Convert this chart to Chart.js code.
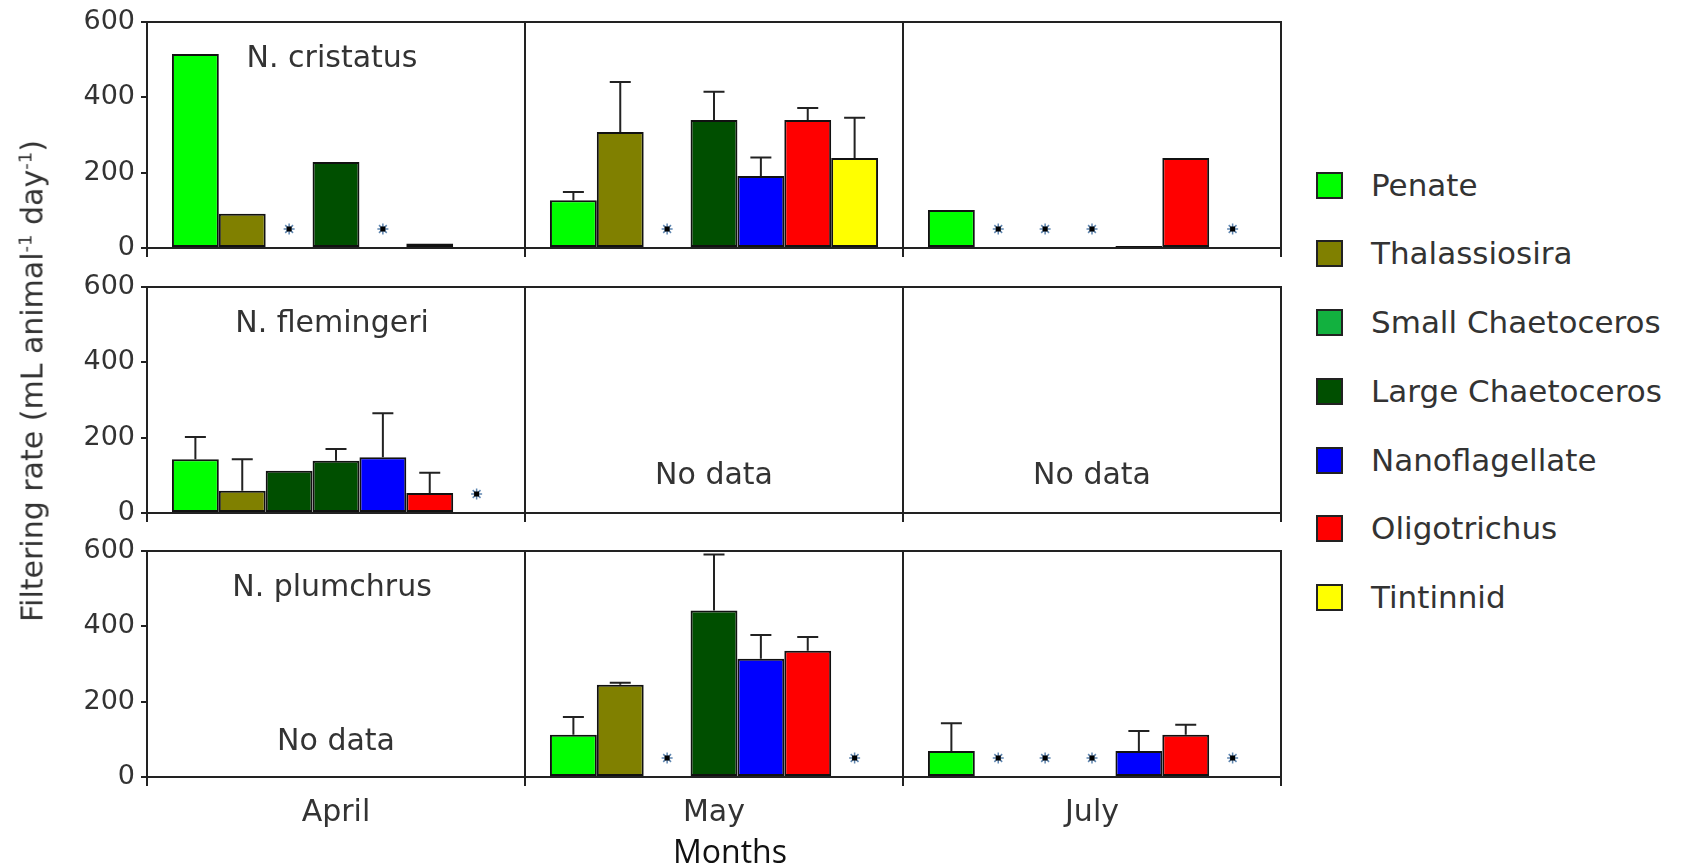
<!DOCTYPE html>
<html>
<head>
<meta charset="utf-8">
<script src="https://cdn.jsdelivr.net/npm/chart.js@4.4.1/dist/chart.umd.min.js"></script>
<style>
    body { margin: 0; width: 1684px; height: 863px; overflow: hidden; background: #fff; position: relative; font-family: 'DejaVu Sans', sans-serif; }
    canvas.panel { position: absolute; left: 0; }
    #yTitle { position: absolute; left: 32px; top: 381px; transform: translate(-50%, -50%) rotate(-90deg); white-space: nowrap; font-size: 30px; color: #333; }
    #yTitle sup { font-size: 0.6em; }
    #xTitle { position: absolute; left: 730px; top: 850px; transform: translate(-50%, -50%); font-family: 'Open Sans', sans-serif; font-size: 32px; color: #111; }
    .legRow { position: absolute; left: 1316px; height: 34px; display: flex; align-items: center; transform: translateY(-50%); }
    .legBox { width: 27px; height: 27px; box-sizing: border-box; border: 2px solid #222; }
    .legText { margin-left: 28px; font-size: 31px; color: #333; white-space: nowrap; }
</style>
</head>
<body>
<canvas id="panel0" class="panel"></canvas>
<canvas id="panel1" class="panel"></canvas>
<canvas id="panel2" class="panel"></canvas>
<div id="yTitle">Filtering rate (mL animal<sup>-1</sup> day<sup>-1</sup>)</div>
<div id="xTitle">Months</div>
<div id="legend"></div>
<script>
// categories
const months = ['April', 'May', 'July'];
const prey = ['Penate', 'Thalassiosira', 'Small Chaetoceros', 'Large Chaetoceros', 'Nanoflagellate', 'Oligotrichus', 'Tintinnid'];
const species = ['N. cristatus', 'N. flemingeri', 'N. plumchrus'];
const yTicks = [0, 200, 400, 600];

// filtering rate per prey, [April, May, July]; null = no bar
const cristatusRate = [
    [515, 127, 101],
    [91, 308, null],
    [null, null, null],
    [228, 340, null],
    [null, 191, 5],
    [12, 340, 239],
    [null, 239, null]
];
const cristatusErr = [
    [null, 22, null],
    [null, 133, null],
    [null, null, null],
    [null, 75, null],
    [null, 49, null],
    [null, 32, null],
    [null, 107, null]
];
// 1 = "*" marker (not detected)
const cristatusStar = [
    [0, 0, 0],
    [0, 0, 1],
    [1, 1, 1],
    [0, 0, 1],
    [1, 0, 0],
    [0, 0, 0],
    [0, 0, 1]
];

const flemingeriRate = [
    [143, null, null],
    [59, null, null],
    [112, null, null],
    [139, null, null],
    [148, null, null],
    [53, null, null],
    [null, null, null]
];
const flemingeriErr = [
    [59, null, null],
    [84, null, null],
    [null, null, null],
    [31, null, null],
    [117, null, null],
    [54, null, null],
    [null, null, null]
];
const flemingeriStar = [
    [0, 0, 0],
    [0, 0, 0],
    [0, 0, 0],
    [0, 0, 0],
    [0, 0, 0],
    [0, 0, 0],
    [1, 0, 0]
];

const plumchrusRate = [
    [null, 112, 69],
    [null, 245, null],
    [null, null, null],
    [null, 442, null],
    [null, 314, 69],
    [null, 335, 112],
    [null, null, null]
];
const plumchrusErr = [
    [null, 47, 74],
    [null, 5, null],
    [null, null, null],
    [null, 149, null],
    [null, 63, 53],
    [null, 37, 27],
    [null, null, null]
];
const plumchrusStar = [
    [0, 0, 0],
    [0, 0, 1],
    [0, 1, 1],
    [0, 0, 1],
    [0, 0, 0],
    [0, 0, 0],
    [0, 1, 1]
];

// months without data, per species
const noDataMonths = [[], [1, 2], [0]];

const rates = [cristatusRate, flemingeriRate, plumchrusRate];
const errs = [cristatusErr, flemingeriErr, plumchrusErr];
const stars = [cristatusStar, flemingeriStar, plumchrusStar];

// styles
const preyColors = ['#00ff00', '#808000', '#12b13f', '#004f00', '#0000ff', '#ff0000', '#ffff00'];
const panelTops = [22, 287, 551];
const panelH = 226;
const topPad = 30;
const noDataLift = [0, 37, 35];
const axisColor = '#222';
const textColor = '#333';
const font30 = '30px "DejaVu Sans"';

function barColor(p, k) {
    // small Chaetoceros of N. flemingeri is drawn dark green in the source figure
    if (p === 1 && k === 2) return preyColors[3];
    return preyColors[k];
}

function drawStar(ctx, cx, cy) {
    ctx.save();
    ctx.strokeStyle = '#5f86b0';
    ctx.lineWidth = 1.5;
    for (let a = 0; a < 4; a++) {
        const t = a * Math.PI / 4;
        ctx.beginPath();
        ctx.moveTo(cx - 5.5 * Math.cos(t), cy - 5.5 * Math.sin(t));
        ctx.lineTo(cx + 5.5 * Math.cos(t), cy + 5.5 * Math.sin(t));
        ctx.stroke();
    }
    ctx.fillStyle = '#000';
    ctx.fillRect(cx - 2.5, cy - 2.5, 5, 5);
    ctx.restore();
}

const panelExtras = {
    id: 'panelExtras',
    afterDatasetsDraw(chart, args, opts) {
        const p = opts.panel;
        const { ctx, chartArea, scales: { x, y } } = chart;
        const base = y.getPixelForValue(0);
        ctx.save();

        // error bars (upper half only)
        ctx.strokeStyle = axisColor;
        ctx.lineWidth = 2;
        errs[p].forEach((row, k) => {
            const meta = chart.getDatasetMeta(k);
            row.forEach((e, m) => {
                if (e == null) return;
                const bar = meta.data[m];
                const yTop = y.getPixelForValue(rates[p][k][m] + e);
                ctx.beginPath();
                ctx.moveTo(bar.x, bar.y);
                ctx.lineTo(bar.x, yTop);
                ctx.moveTo(bar.x - 10.5, yTop);
                ctx.lineTo(bar.x + 10.5, yTop);
                ctx.stroke();
            });
        });

        // not-detected markers
        stars[p].forEach((row, k) => {
            const meta = chart.getDatasetMeta(k);
            row.forEach((s, m) => {
                if (s) drawStar(ctx, meta.data[m].x, base - 19);
            });
        });

        // labels
        ctx.fillStyle = textColor;
        ctx.font = font30;
        ctx.textAlign = 'center';
        ctx.textBaseline = 'middle';
        ctx.fillText(species[p], x.getPixelForValue(0) - 4, chartArea.top + 37);
        noDataMonths[p].forEach(m => {
            ctx.fillText('No data', x.getPixelForValue(m), base - noDataLift[p]);
        });

        // frame
        ctx.strokeStyle = axisColor;
        ctx.lineWidth = 2;
        ctx.strokeRect(chartArea.left, chartArea.top, chartArea.right - chartArea.left, chartArea.bottom - chartArea.top);
        ctx.restore();
    }
};

function createPanel(p) {
    const showMonths = p === 2;
    const xH = showMonths ? 70 : 32;
    const canvas = document.getElementById('panel' + p);
    canvas.width = 1300;
    canvas.height = topPad + panelH + xH;
    canvas.style.top = (panelTops[p] - topPad) + 'px';

    const datasets = prey.map((name, k) => ({
        label: name,
        data: rates[p][k],
        backgroundColor: barColor(p, k),
        borderColor: '#111',
        borderWidth: 2,
        borderSkipped: false
    }));

    return new Chart(canvas.getContext('2d'), {
        type: 'bar',
        data: { labels: months, datasets: datasets },
        options: {
            responsive: false,
            animation: false,
            devicePixelRatio: 1,
            layout: { padding: { top: topPad, right: 19, left: 0, bottom: 0 } },
            datasets: { bar: { categoryPercentage: 0.868, barPercentage: 1 } },
            plugins: {
                legend: { display: false },
                tooltip: { enabled: false },
                panelExtras: { panel: p }
            },
            scales: {
                x: {
                    offset: true,
                    grid: { offset: true, drawOnChartArea: true, color: axisColor, lineWidth: 2, tickLength: 9 },
                    border: { display: true, color: axisColor, width: 2 },
                    ticks: { display: showMonths, color: textColor, font: { family: 'DejaVu Sans', size: 30 }, padding: 9 },
                    afterFit: (s) => { s.height = xH; }
                },
                y: {
                    min: 0,
                    max: 600,
                    afterBuildTicks: (s) => { s.ticks = yTicks.map(v => ({ value: v })); },
                    grid: { drawOnChartArea: false, color: axisColor, lineWidth: 2, tickLength: 6 },
                    border: { display: true, color: axisColor, width: 2 },
                    ticks: { color: textColor, font: { family: 'DejaVu Sans', size: 27 }, padding: 6 },
                    afterFit: (s) => { s.width = 147; }
                }
            }
        },
        plugins: [panelExtras]
    });
}

// legend
const legendTops = [185, 253, 322, 391, 460, 528, 597];
const legend = document.getElementById('legend');
prey.forEach((name, k) => {
    const row = document.createElement('div');
    row.className = 'legRow';
    row.style.top = legendTops[k] + 'px';
    row.innerHTML = '<div class="legBox" style="background:' + preyColors[k] + '"></div><div class="legText">' + name + '</div>';
    legend.appendChild(row);
});

[0, 1, 2].forEach(createPanel);
</script>
</body>
</html>
